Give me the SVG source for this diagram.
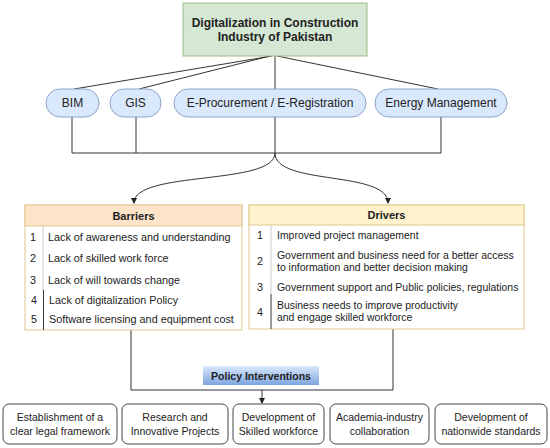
<svg xmlns="http://www.w3.org/2000/svg" width="550" height="448" viewBox="0 0 550 448">
<defs>
<marker id="arr" markerWidth="6" markerHeight="6" refX="5" refY="3" orient="auto" markerUnits="userSpaceOnUse">
<path d="M0,0 L6,3 L0,6 z" fill="#222"/>
</marker>
<linearGradient id="pg" x1="0" y1="0" x2="0" y2="1">
<stop offset="0" stop-color="#dae8fc"/>
<stop offset="1" stop-color="#7ea6e0"/>
</linearGradient>
</defs>
<style>
text{font-family:"Liberation Sans",Arial,sans-serif;fill:#222}
.t{font-size:12px;font-weight:bold;text-anchor:middle}
.p{font-size:12px;text-anchor:middle}
.h{font-size:11px;font-weight:bold;text-anchor:middle}
.r{font-size:10.8px}
.d{font-size:10.45px}
.n{font-size:10.8px;text-anchor:middle}
.b{font-size:10.5px;text-anchor:middle}
.pill{fill:#dae8fc;stroke:#8da4c6;stroke-width:1}
.box{fill:#fff;stroke:#444;stroke-width:1}
.ln{fill:none;stroke:#333;stroke-width:1}
</style>
<rect width="550" height="448" fill="#fff"/>
<g id="connectors">
<path class="ln" d="M272,56 L74,89"/>
<path class="ln" d="M270,56 L139,89"/>
<path class="ln" d="M275,56 L275,89"/>
<path class="ln" d="M277,56 L438,89"/>
<path class="ln" d="M72,117 V153 M136,117 V153 M275,117 V153 M441,117 V153 M72,153 H441"/>
<path class="ln" d="M275,153 C275,186 134,170 134,203" marker-end="url(#arr)"/>
<path class="ln" d="M275,153 C275,186 388,170 388,203" marker-end="url(#arr)"/>
<path class="ln" d="M131,330 V390 M393,329 V390 M131,390 H393"/>
<path class="ln" d="M262,390 V403" marker-end="url(#arr)"/>
</g>
<g id="title">
<rect x="183" y="3" width="184" height="53" fill="#d5e8d4" stroke="#9bbb87"/>
<text class="t" x="275" y="27">Digitalization in Construction</text>
<text class="t" x="275" y="41">Industry of Pakistan</text>
</g>
<g id="bim"><rect class="pill" x="46" y="89" width="53" height="28" rx="14"/><text class="p" x="72.5" y="107">BIM</text></g>
<g id="gis"><rect class="pill" x="110" y="89" width="51" height="28" rx="14"/><text class="p" x="135.5" y="107">GIS</text></g>
<g id="eproc"><rect class="pill" x="174" y="89" width="192" height="28" rx="14"/><text class="p" x="270" y="107">E-Procurement / E-Registration</text></g>
<g id="energy"><rect class="pill" x="375" y="89" width="132" height="28" rx="14"/><text class="p" x="441" y="107">Energy Management</text></g>
<g id="barriers">
<rect x="25" y="205" width="217" height="125" fill="#fff" stroke="#e0c890"/>
<rect x="25" y="205" width="217" height="21" fill="#fde3c8" stroke="#e0c890"/>
<line x1="43" y1="226" x2="43" y2="290" stroke="#c8c8c8"/>
<line x1="43.5" y1="290" x2="43.5" y2="330" stroke="#333"/>
<text class="h" x="133.5" y="219.5">Barriers</text>
<text class="n" x="33" y="241">1</text><text class="r" x="48" y="241">Lack of awareness and understanding</text>
<text class="n" x="33" y="262">2</text><text class="r" x="48" y="262">Lack of skilled work force</text>
<text class="n" x="33" y="284">3</text><text class="r" x="48" y="284">Lack of will towards change</text>
<text class="n" x="34" y="304">4</text><text class="r" x="49" y="304">Lack of digitalization Policy</text>
<text class="n" x="34" y="323">5</text><text class="r" x="49" y="323">Software licensing and equipment cost</text>
</g>
<g id="drivers">
<rect x="249" y="205" width="275" height="124" fill="#fff" stroke="#e0c890"/>
<rect x="249" y="205" width="275" height="20" fill="#fff2cc" stroke="#e0c890"/>
<line x1="271" y1="225" x2="271" y2="294" stroke="#c8c8c8"/>
<line x1="271" y1="294" x2="271" y2="329" stroke="#333"/>
<text class="h" x="386.5" y="219">Drivers</text>
<text class="n" x="260" y="239">1</text><text class="d" x="277" y="239">Improved project management</text>
<text class="n" x="260" y="265">2</text><text class="d" x="277" y="259">Government and business need for a better access</text>
<text class="d" x="277" y="271">to information and better decision making</text>
<text class="n" x="260" y="291">3</text><text class="d" x="277" y="291">Government support and Public policies, regulations</text>
<text class="n" x="260" y="316">4</text><text class="d" x="277" y="309">Business needs to improve productivity</text>
<text class="d" x="277" y="321">and engage skilled workforce</text>
</g>
<g id="policy">
<rect x="203" y="366" width="116" height="19" fill="url(#pg)"/>
<text class="h" x="261" y="379.5" style="font-size:10.5px">Policy Interventions</text>
</g>
<g id="p1"><rect class="box" x="3" y="404" width="114" height="40" rx="6"/><text class="b" x="60" y="421">Establishment of a</text><text class="b" x="60" y="435">clear legal framework</text></g>
<g id="p2"><rect class="box" x="122" y="404" width="106" height="40" rx="6"/><text class="b" x="175" y="421">Research and</text><text class="b" x="175" y="435">Innovative Projects</text></g>
<g id="p3"><rect class="box" x="233" y="404" width="91" height="40" rx="6"/><text class="b" x="278.5" y="421">Development of</text><text class="b" x="278.5" y="435">Skilled workforce</text></g>
<g id="p4"><rect class="box" x="330" y="404" width="99" height="40" rx="6"/><text class="b" x="379.5" y="421">Academia-industry</text><text class="b" x="379.5" y="435">collaboration</text></g>
<g id="p5"><rect class="box" x="435" y="404" width="112" height="40" rx="6"/><text class="b" x="491" y="421">Development of</text><text class="b" x="491" y="435">nationwide standards</text></g>
</svg>
